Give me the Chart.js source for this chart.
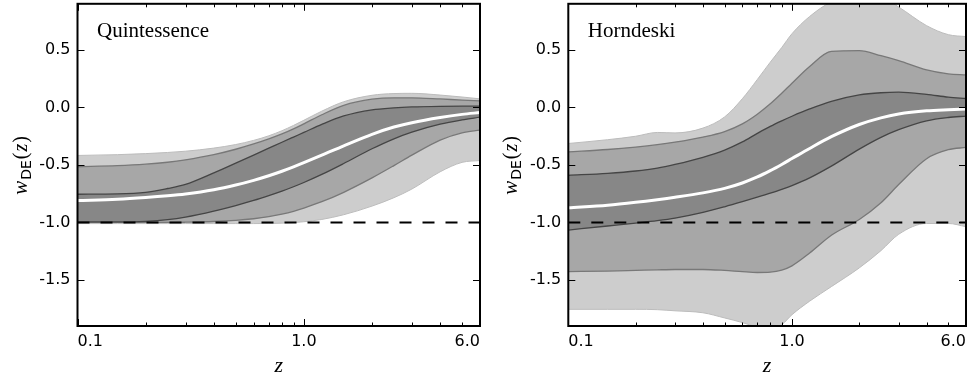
<!DOCTYPE html>
<html>
<head>
<meta charset="utf-8">
<script src="https://cdn.jsdelivr.net/npm/chart.js@4.4.1/dist/chart.umd.min.js"></script>
<style>
    body { margin: 0; background: #fff; }
    #wrap { position: relative; width: 971px; height: 377px; }
    .panel { position: absolute; top: 0; height: 377px; }
</style>
</head>
<body>
<div id="wrap">
    <div class="panel" style="left:0;width:490px"><canvas id="chartQ" width="490" height="377"></canvas></div>
    <div class="panel" style="left:490px;width:481px"><canvas id="chartH" width="481" height="377"></canvas></div>
</div>
<script>
// redshift grid (log axis) and tick setup
const zGrid = [0.1, 0.15, 0.2, 0.25, 0.3, 0.4, 0.5, 0.6, 0.7, 0.8, 0.9, 1.0, 1.2, 1.5, 2.0, 2.5, 3.0, 4.0, 5.0, 6.0];
const zTicks = [0.1, 0.2, 0.3, 0.4, 0.5, 0.6, 0.7, 0.8, 0.9, 1, 2, 3, 4, 5, 6];
const zMajor = [0.1, 1, 6];
const zLabels = ["0.1", "1.0", "6.0"];
const wTicks = [-1.5, -1.0, -0.5, 0.0, 0.5];
const zEnds = [0.1, 6.0];
const wLambda = [-1, -1];

// Quintessence bands
const qLightHi = [-0.418, -0.411, -0.402, -0.392, -0.381, -0.354, -0.323, -0.287, -0.247, -0.203, -0.157, -0.112, -0.033, 0.049, 0.105, 0.12, 0.122, 0.107, 0.09, 0.074];
const qMedHi   = [-0.516, -0.507, -0.494, -0.477, -0.456, -0.411, -0.364, -0.318, -0.274, -0.231, -0.187, -0.143, -0.064, 0.018, 0.071, 0.083, 0.083, 0.073, 0.063, 0.057];
const qDarkHi  = [-0.755, -0.752, -0.738, -0.705, -0.67, -0.57, -0.485, -0.415, -0.355, -0.303, -0.258, -0.218, -0.148, -0.075, -0.022, -0.004, 0.004, 0.009, 0.01, 0.01];
const qMid     = [-0.81, -0.799, -0.784, -0.769, -0.753, -0.716, -0.675, -0.634, -0.594, -0.555, -0.517, -0.481, -0.416, -0.334, -0.234, -0.171, -0.133, -0.088, -0.061, -0.045];
const qDarkLo  = [-0.995, -0.995, -0.99, -0.976, -0.954, -0.902, -0.853, -0.809, -0.767, -0.728, -0.69, -0.653, -0.583, -0.488, -0.36, -0.273, -0.215, -0.146, -0.109, -0.085];
const qMedLo   = [-1.0, -1.0, -1.0, -1.0, -0.998, -0.992, -0.982, -0.968, -0.95, -0.928, -0.903, -0.875, -0.82, -0.738, -0.613, -0.506, -0.415, -0.284, -0.221, -0.197];
const qLightLo = [-1.01, -1.01, -1.01, -1.01, -1.01, -1.01, -1.01, -1.01, -1.009, -1.006, -1.001, -0.994, -0.974, -0.933, -0.858, -0.785, -0.71, -0.56, -0.478, -0.462];

// Horndeski bands
const hLightHi = [-0.314, -0.281, -0.251, -0.218, -0.222, -0.18, -0.083, 0.075, 0.242, 0.393, 0.52, 0.64, 0.79, 0.916, 0.978, 0.959, 0.872, 0.71, 0.632, 0.615];
const hMedHi   = [-0.387, -0.366, -0.345, -0.324, -0.302, -0.258, -0.21, -0.143, -0.059, 0.031, 0.123, 0.21, 0.356, 0.487, 0.493, 0.449, 0.406, 0.325, 0.291, 0.282];
const hDarkHi  = [-0.591, -0.573, -0.553, -0.528, -0.496, -0.434, -0.371, -0.3, -0.226, -0.165, -0.117, -0.077, -0.014, 0.052, 0.108, 0.127, 0.132, 0.113, 0.089, 0.077];
const hMid     = [-0.873, -0.85, -0.825, -0.802, -0.781, -0.743, -0.704, -0.657, -0.605, -0.55, -0.496, -0.445, -0.357, -0.255, -0.149, -0.091, -0.058, -0.03, -0.02, -0.014];
const hDarkLo  = [-1.066, -1.031, -1.006, -0.985, -0.963, -0.913, -0.864, -0.82, -0.781, -0.746, -0.713, -0.68, -0.613, -0.511, -0.363, -0.261, -0.194, -0.117, -0.088, -0.076];
const hMedLo   = [-1.427, -1.423, -1.417, -1.412, -1.409, -1.409, -1.417, -1.428, -1.435, -1.432, -1.414, -1.377, -1.266, -1.111, -0.974, -0.829, -0.671, -0.446, -0.368, -0.348];
const hLightLo = [-1.755, -1.755, -1.755, -1.758, -1.768, -1.785, -1.83, -1.87, -1.91, -1.93, -1.889, -1.802, -1.684, -1.558, -1.395, -1.245, -1.103, -1.009, -1.009, -1.037];

const pts = arr => zGrid.map((z, i) => ({ x: z, y: arr[i] }));

function band(hi, lo, fill, edge, width, order) {
    return [
        { data: pts(hi), fill: '+1', backgroundColor: fill, borderColor: edge, borderWidth: width, order: order + 1 },
        { data: pts(lo), fill: false, borderColor: edge, borderWidth: width, order: order }
    ];
}

// inside ticks on all four sides, frame, panel label and axis titles
const frameTicks = {
    id: 'frameTicks',
    afterDatasetsDraw(chart, args, opts) {
        const { ctx, chartArea: a, scales: { x, y } } = chart;
        ctx.save();
        ctx.strokeStyle = '#000';
        ctx.lineWidth = 1;
        ctx.beginPath();
        zTicks.forEach(z => {
            const px = Math.round(x.getPixelForValue(z)) + 0.5;
            const len = zMajor.includes(z) ? 7 : 3.5;
            ctx.moveTo(px, a.bottom); ctx.lineTo(px, a.bottom - len);
            ctx.moveTo(px, a.top); ctx.lineTo(px, a.top + len);
        });
        wTicks.forEach(w => {
            const py = Math.round(y.getPixelForValue(w)) + 0.5;
            ctx.moveTo(a.left, py); ctx.lineTo(a.left + 7, py);
            ctx.moveTo(a.right, py); ctx.lineTo(a.right - 7, py);
        });
        ctx.stroke();
        ctx.lineWidth = 2;
        ctx.strokeRect(a.left, a.top, a.right - a.left, a.bottom - a.top);

        ctx.fillStyle = '#000';
        ctx.textAlign = 'left';
        ctx.textBaseline = 'alphabetic';
        ctx.font = '21px "Liberation Serif"';
        ctx.fillText(opts.label, a.left + 19.5, 37);

        ctx.textAlign = 'center';
        ctx.font = 'italic 22px "Liberation Serif"';
        ctx.fillText('z', (a.left + a.right) / 2, 371.5);

        // y title: w_DE(z)
        const parts = [
            ['w', 'italic 21px "Liberation Serif"', 0],
            ['DE', '14px "DejaVu Sans"', 4],
            ['(', '20px "Liberation Serif"', 0],
            ['z', 'italic 20px "Liberation Serif"', 0],
            [')', '20px "Liberation Serif"', 0]
        ];
        ctx.translate(a.left - 57, (a.top + a.bottom) / 2);
        ctx.rotate(-Math.PI / 2);
        ctx.textAlign = 'left';
        let total = 0;
        parts.forEach(p => { ctx.font = p[1]; total += ctx.measureText(p[0]).width + 1; });
        let cx = -total / 2;
        parts.forEach(p => {
            ctx.font = p[1];
            ctx.fillText(p[0], cx, 6 + p[2]);
            cx += ctx.measureText(p[0]).width + 1;
        });
        ctx.restore();
    }
};

const tickFont = { family: 'DejaVu Sans', size: 16 };

function makeChart(id, label, s, leftW, rightPad) {
    const datasets = [
        ...band(s[0], s[6], '#cdcdcd', '#bcbcbc', 1, 11),
        ...band(s[1], s[5], '#a7a7a7', '#787878', 1.3, 9),
        ...band(s[2], s[4], '#878787', '#454545', 1.3, 7),
        { data: pts(s[3]), borderColor: '#ffffff', borderWidth: 3, fill: false, order: 2 },
        { data: zEnds.map((z, i) => ({ x: z, y: wLambda[i] })), borderColor: '#000', borderWidth: 2, borderDash: [12, 11], fill: false, order: 1, tension: 0 }
    ];
    return new Chart(document.getElementById(id), {
        type: 'line',
        data: { datasets },
        options: {
            responsive: false,
            animation: false,
            devicePixelRatio: 1,
            layout: { padding: { top: 3.8, right: rightPad, bottom: 0, left: 0 } },
            elements: {
                point: { radius: 0 },
                line: { cubicInterpolationMode: 'monotone' }
            },
            scales: {
                x: {
                    type: 'logarithmic',
                    min: 0.1,
                    max: 6,
                    afterBuildTicks: sc => { sc.ticks = zTicks.map(v => ({ value: v })); },
                    afterFit: sc => { sc.height = 51; sc.paddingLeft = 0; sc.paddingRight = 0; },
                    grid: { display: false, drawTicks: false },
                    border: { display: false },
                    ticks: {
                        autoSkip: false,
                        maxRotation: 0,
                        align: 'inner',
                        padding: 6,
                        color: '#000',
                        font: tickFont,
                        callback: v => {
                            const k = zMajor.indexOf(v);
                            return k >= 0 ? zLabels[k] : '';
                        }
                    }
                },
                y: {
                    min: -1.9,
                    max: 0.9,
                    afterBuildTicks: sc => { sc.ticks = wTicks.map(v => ({ value: v })); },
                    afterFit: sc => { sc.width = leftW; sc.paddingTop = 0; sc.paddingBottom = 0; },
                    grid: { display: false, drawTicks: false },
                    border: { display: false },
                    ticks: { padding: 7, color: '#000', font: tickFont, callback: v => v.toFixed(1) }
                }
            },
            plugins: {
                legend: { display: false },
                tooltip: { enabled: false },
                frameTicks: { label }
            }
        },
        plugins: [frameTicks]
    });
}

makeChart('chartQ', 'Quintessence', [qLightHi, qMedHi, qDarkHi, qMid, qDarkLo, qMedLo, qLightLo], 77.5, 10);
makeChart('chartH', 'Horndeski', [hLightHi, hMedHi, hDarkHi, hMid, hDarkLo, hMedLo, hLightLo], 78.3, 5);
</script>
</body>
</html>
